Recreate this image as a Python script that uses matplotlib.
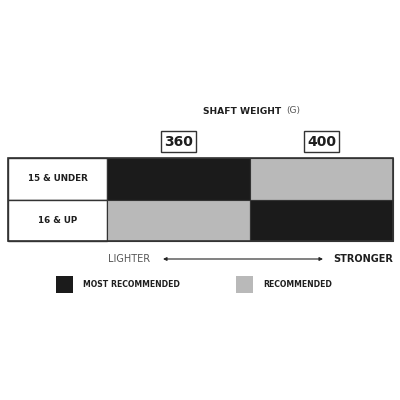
import matplotlib.pyplot as plt
from matplotlib.patches import Rectangle

# data
row_labels = ['15 & UNDER', '16 & UP']
col_labels = ['360', '400']
# 2 = most recommended, 1 = recommended
levels = [[2, 1],
          [1, 2]]
legend_labels = ['MOST RECOMMENDED', 'RECOMMENDED']

colors = {2: '#1b1b1b', 1: '#b9b9b9'}
txt = '#1e1e1e'

fig = plt.figure(figsize=(4, 4), dpi=100)
ax = fig.add_axes([0, 0, 1, 1])
ax.set_xlim(0, 400)
ax.set_ylim(400, 0)
ax.axis('off')

left, label_right, right = 8, 107, 393
top, bottom = 158, 241
n_rows, n_cols = len(row_labels), len(col_labels)
row_h = (bottom - top) / n_rows
col_w = (right - label_right) / n_cols

# header
ax.text(203, 111, 'SHAFT WEIGHT', ha='left', va='center', fontsize=6.6,
        fontweight='bold', color=txt)
ax.text(286, 111, '(G)', ha='left', va='center', fontsize=6.6, color='#555555')

for j, c in enumerate(col_labels):
    cx = label_right + col_w * (j + 0.5)
    ax.text(cx, 141.5, c, ha='center', va='center', fontsize=10, fontweight='bold',
            color=txt, bbox=dict(boxstyle='square,pad=0.22', fc='white',
                                 ec='#333333', lw=1))

# cells
for i, r in enumerate(row_labels):
    y0 = top + row_h * i
    ax.add_patch(Rectangle((left, y0), label_right - left, row_h,
                           fc='white', ec='#333333', lw=1))
    ax.text((left + label_right) / 2, y0 + row_h / 2, r, ha='center', va='center',
            fontsize=6.3, fontweight='bold', color=txt)
    for j in range(n_cols):
        ax.add_patch(Rectangle((label_right + col_w * j, y0), col_w, row_h,
                               fc=colors[levels[i][j]], ec='#333333', lw=0.8))
ax.add_patch(Rectangle((left, top), right - left, bottom - top,
                       fill=False, ec='#333333', lw=1.2))

# lighter / stronger
ax.text(108, 259, 'LIGHTER', ha='left', va='center', fontsize=7, color='#555555')
ax.text(393, 259, 'STRONGER', ha='right', va='center', fontsize=7,
        fontweight='bold', color=txt)
ax.annotate('', xy=(323, 259), xytext=(163, 259),
            arrowprops=dict(arrowstyle='<|-|>', color='#222222', lw=0.8,
                            mutation_scale=5, shrinkA=0, shrinkB=0))

# legend
for k, (lab, lvl) in enumerate(zip(legend_labels, [2, 1])):
    x0 = 56 if k == 0 else 236
    ax.add_patch(Rectangle((x0, 276), 17, 17, fc=colors[lvl], ec='none'))
    ax.text(x0 + 27, 284.5, lab, ha='left', va='center', fontsize=5.6,
            fontweight='bold', color=txt)

fig.savefig('out.png', dpi=100)
